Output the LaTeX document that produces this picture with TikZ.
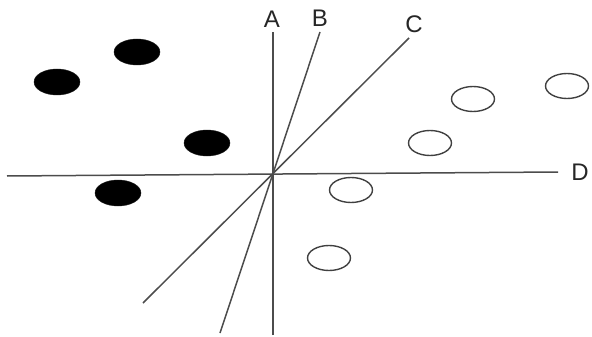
\documentclass[tikz,border=0pt]{standalone}
\usepackage{fontspec}
\setmainfont{Liberation Sans}
\usetikzlibrary{shapes.geometric}

\begin{document}
\begin{tikzpicture}[x=1pt, y=-1pt,
    axis/.style={draw=black!70, line width=1.5pt},
    lbl/.style={font=\fontsize{24}{24}\selectfont, text=black!85, inner sep=0pt},
    filled/.style={ellipse, fill=black, draw=black!90, minimum width=46pt, minimum height=26pt, inner sep=0pt},
    hollow/.style={ellipse, draw=black!75, line width=1.4pt, minimum width=43pt, minimum height=25pt, inner sep=0pt}
  ]
    \useasboundingbox (0,0) rectangle (592,337);

    % Line end points
    \coordinate (O) at (272,175);
    \coordinate (Atop) at (273,32);   \coordinate (Abot) at (273,335);
    \coordinate (Btop) at (320,32);   \coordinate (Bbot) at (220,333);
    \coordinate (Ctop) at (409,38);   \coordinate (Cbot) at (143,303);
    \coordinate (Dleft) at (7,176);   \coordinate (Dright) at (558,172);

    % Separating lines
    \foreach \a/\b in {Abot/Atop, Bbot/Btop, Cbot/Ctop, Dleft/Dright}
      \draw[axis] (\a) -- (\b);

    % Line labels
    \node[lbl] (A) at (272,19) {A};
    \node[lbl] (B) at (320,18) {B};
    \node[lbl] (C) at (414,24) {C};
    \node[lbl] (D) at (580,172) {D};

    % Class one
    \foreach \n/\x/\y in {f1/137/52, f2/57/82, f3/207/143, f4/118/193}
      \node[filled] (\n) at (\x,\y) {};

    % Class two
    \foreach \n/\x/\y in {h1/473/99, h2/567/86, h3/430/143, h4/351/190, h5/329/258}
      \node[hollow] (\n) at (\x,\y) {};

  \end{tikzpicture}
\end{document}
